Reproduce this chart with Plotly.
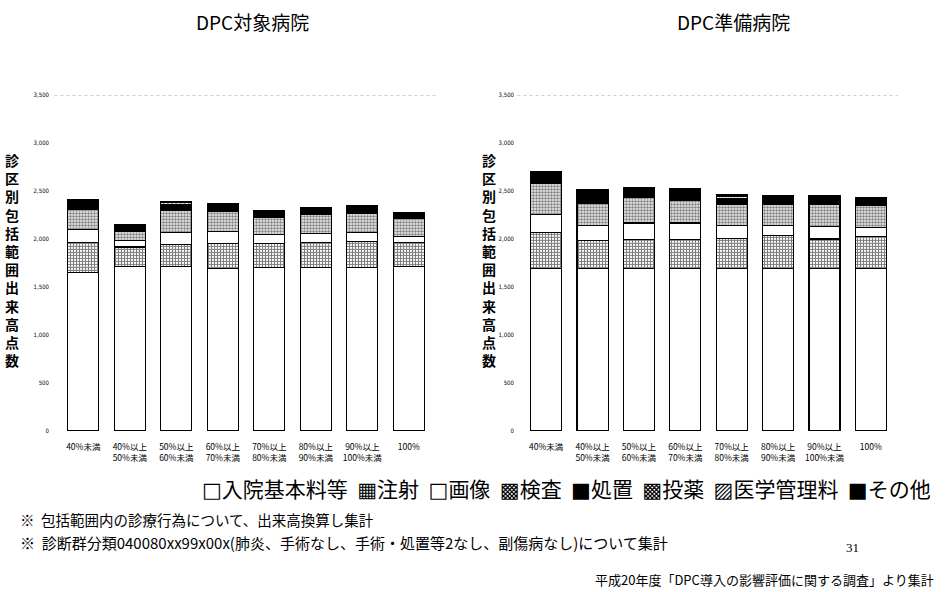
import plotly.graph_objects as go
from plotly.subplots import make_subplots

# ---------------- data ----------------
categories = ["40%未満", "40%以上<br>50%未満", "50%以上<br>60%未満", "60%以上<br>70%未満",
              "70%以上<br>80%未満", "80%以上<br>90%未満", "90%以上<br>100%未満", "100%"]

series_names = ["入院基本料等", "注射", "画像", "検査", "処置", "投薬", "医学管理料", "その他"]

# DPC対象病院
left_nyuin   = [1650, 1710, 1710, 1690, 1700, 1700, 1700, 1710]
left_chusha  = [310, 205, 233, 260, 250, 260, 277, 250]
left_gazo    = [138, 70, 120, 130, 95, 100, 86, 69]
left_kensa   = [206, 95, 230, 206, 180, 195, 206, 188]
left_shochi  = [85, 41, 50, 59, 45, 35, 35, 28]
left_toyaku  = [7, 10, 18, 10, 9, 14, 15, 12]
left_igaku   = [6, 9, 16, 9, 8, 12, 13, 11]
left_sonota  = [5, 9, 14, 8, 8, 11, 13, 11]

# DPC準備病院
right_nyuin  = [1690, 1690, 1690, 1690, 1690, 1690, 1690, 1690]
right_chusha = [373, 295, 305, 305, 318, 342, 308, 339]
right_gazo   = [189, 157, 171, 171, 129, 105, 129, 87]
right_kensa  = [326, 230, 264, 240, 221, 218, 231, 232]
right_shochi = [92, 120, 70, 85, 65, 68, 59, 48]
right_toyaku = [13, 7, 13, 11, 16, 11, 11, 14]
right_igaku  = [11, 6, 11, 9, 14, 10, 10, 12]
right_sonota = [11, 5, 11, 9, 13, 9, 9, 12]

left_series = [left_nyuin, left_chusha, left_gazo, left_kensa, left_shochi,
               left_toyaku, left_igaku, left_sonota]
right_series = [right_nyuin, right_chusha, right_gazo, right_kensa, right_shochi,
                right_toyaku, right_igaku, right_sonota]

panel_titles = ["DPC対象病院", "DPC準備病院"]
y_title = "診区別包括範囲出来高点数"
y_max = 3500
y_step = 500

legend_symbols = ["□", "▦", "□", "▩", "■", "▩", "▨", "■"]

note1 = "※  包括範囲内の診療行為について、出来高換算し集計"
note2 = "※  診断群分類040080xx99x00x(肺炎、手術なし、手術・処置等2なし、副傷病なし)について集計"
page_no = "31"
source = "平成20年度「DPC導入の影響評価に関する調査」より集計"

# ---------------- styles ----------------
styles = [
    dict(color="white"),
    dict(color="white", pattern=dict(shape="+", fgcolor="black", bgcolor="white", size=3, solidity=0.6)),
    dict(color="white"),
    dict(color="white", pattern=dict(shape=".", fgcolor="black", bgcolor="white", size=3, solidity=0.6)),
    dict(color="black"),
    dict(color="white", pattern=dict(shape=".", fgcolor="black", bgcolor="white", size=3, solidity=0.3)),
    dict(color="white", pattern=dict(shape="/", fgcolor="black", bgcolor="white", size=3, solidity=0.4)),
    dict(color="#333333", pattern=dict(shape="+", fgcolor="black", bgcolor="#666666", size=3, solidity=0.5)),
]

FONT = "Noto Sans CJK JP"

fig = make_subplots(rows=1, cols=2)

for col, data in ((1, left_series), (2, right_series)):
    for name, vals, st in zip(series_names, data, styles):
        marker = dict(color=st["color"], line=dict(color="black", width=1.2))
        if "pattern" in st:
            marker["pattern"] = st["pattern"]
        fig.add_trace(go.Bar(x=categories, y=vals, name=name, marker=marker,
                             showlegend=False), row=1, col=col)

W, H = 946, 592
fig.update_layout(
    width=W, height=H, barmode="stack", bargap=0.33,
    margin=dict(l=0, r=0, t=0, b=0),
    paper_bgcolor="white", plot_bgcolor="white",
    font=dict(family=FONT, color="black"),
)

xdomains = [[60 / W, 432 / W], [523 / W, 894 / W]]
ydomain = [1 - 432 / H, 1 - 92 / H]
standoffs = [10, 8]

for i, (xa, ya) in enumerate((("xaxis", "yaxis"), ("xaxis2", "yaxis2"))):
    fig.layout[xa].update(domain=xdomains[i], showline=False, showgrid=False, ticks="",
                          tickfont=dict(size=8.5, family=FONT, color="black"),
                          ticklabelstandoff=10, tickangle=0)
    fig.layout[ya].update(domain=ydomain, range=[0, y_max], showgrid=False, zeroline=False,
                          showline=False, ticks="", tickmode="linear", tick0=0, dtick=y_step,
                          tickformat=",", tickfont=dict(size=6, family="DejaVu Sans Condensed", color="black"),
                          ticklabelstandoff=standoffs[i])

# top reference line at y_max
for xr, yr in (("x domain", "y"), ("x2 domain", "y2")):
    fig.add_shape(type="line", xref=xr, yref=yr, x0=-0.015, x1=1.01, y0=y_max, y1=y_max,
                  line=dict(color="#888888", width=1, dash="dot"))

ann = []
title_x = [253 / W, 733 / W]
ytitle_x = [12 / W, 489 / W]
for i in range(2):
    ann.append(dict(text=panel_titles[i], x=title_x[i], y=1 - 18 / H, xref="paper", yref="paper",
                    showarrow=False, font=dict(size=19, family=FONT), xanchor="center", yanchor="middle"))
    ann.append(dict(text="<b>" + "<br>".join(list(y_title)) + "</b>", x=ytitle_x[i], y=1 - 259 / H,
                    xref="paper", yref="paper", showarrow=False, font=dict(size=14, family=FONT),
                    xanchor="center", yanchor="middle"))

sym_span = "<span style='font-family:DejaVu Sans;color:black'>{}</span>"
legend_text = "  ".join(sym_span.format(s) + n for s, n in zip(legend_symbols, series_names))
ann.append(dict(text=legend_text, x=566 / W, y=1 - 490 / H, xref="paper", yref="paper",
                showarrow=False, font=dict(size=21, family=FONT), xanchor="center", yanchor="middle"))
ann.append(dict(text=note1, x=18 / W, y=1 - 522 / H, xref="paper", yref="paper", showarrow=False,
                font=dict(size=14.5, family=FONT), xanchor="left", yanchor="middle"))
ann.append(dict(text=note2, x=18 / W, y=1 - 545 / H, xref="paper", yref="paper", showarrow=False,
                font=dict(size=15, family=FONT), xanchor="left", yanchor="middle"))
ann.append(dict(text=page_no, x=852 / W, y=1 - 550 / H, xref="paper", yref="paper", showarrow=False,
                font=dict(size=13, family="Liberation Serif"), xanchor="center", yanchor="middle"))
ann.append(dict(text=source, x=936 / W, y=1 - 582 / H, xref="paper", yref="paper", showarrow=False,
                font=dict(size=13, family=FONT), xanchor="right", yanchor="middle"))

fig.update_layout(annotations=ann)

fig.write_html("out.html", config={"displayModeBar": False},
               post_script="document.body.style.margin='0';document.body.style.overflow='hidden';")
